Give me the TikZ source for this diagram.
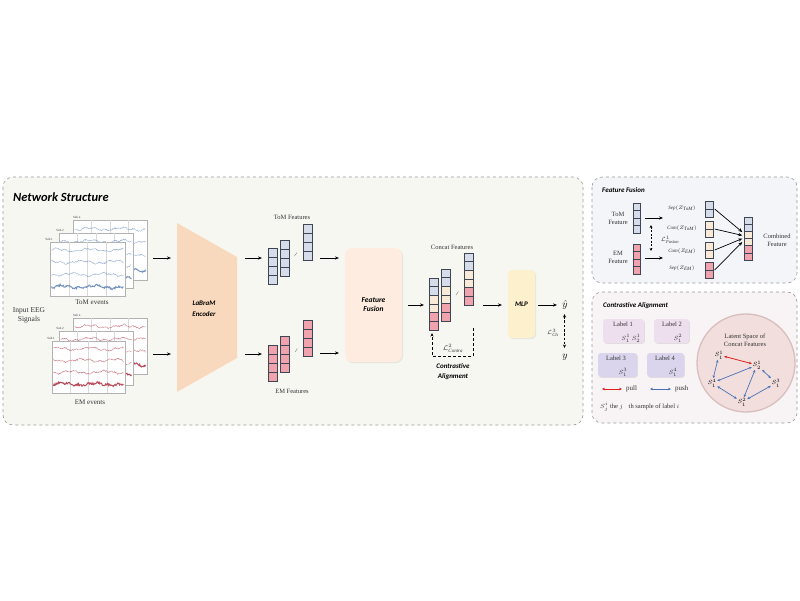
\documentclass[tikz,border=0pt]{standalone}
\usepackage{fontspec}
\setmainfont{Liberation Serif}
\newfontfamily\tfont{Carlito}
\usetikzlibrary{arrows.meta,calc,shadows}
\definecolor{panelbg}{HTML}{F7F7F2}
\definecolor{panelbd}{HTML}{9A9A9A}
\definecolor{ffbg}{HTML}{F4F5F9}
\definecolor{cabg}{HTML}{F8F3F5}
\definecolor{cblue}{HTML}{D6DCEA}
\definecolor{cpink}{HTML}{F0A3AC}
\definecolor{cbeige}{HTML}{F9E9D6}
\definecolor{cellbd}{HTML}{3E4656}
\definecolor{encfill}{HTML}{F9D9BD}
\definecolor{fffill}{HTML}{FDECDF}
\definecolor{mlpfill}{HTML}{FDF0CD}
\definecolor{lab12}{HTML}{EEDFEE}
\definecolor{lab34}{HTML}{DAD5EC}
\definecolor{circfill}{HTML}{F1DEDD}
\definecolor{circbd}{HTML}{D8BFBE}
\definecolor{tomline}{HTML}{6F8EBD}
\definecolor{emline}{HTML}{B5404E}
\definecolor{pullc}{HTML}{E02020}
\definecolor{pushc}{HTML}{4A72B8}
\definecolor{txt}{HTML}{333333}

\newcommand{\fbar}[7]{%
  \foreach \cc [count=\ii from 0] in {#7} {\draw[cell, fill=\cc] ({#2},{#3+\ii*#5}) rectangle ++({#4},{#5});}
  \node[inner sep=0, minimum width={#4*1pt}, minimum height={#6*#5*1pt}] (#1) at ({#2+#4/2},{#3+#6*#5/2}) {};
}
\newcommand{\eegpanel}[6]{%
  \draw[draw=gray!60, fill=white, line width=0.4] (#1,#2) rectangle ++(#3,#4);
  \foreach \f in {0.25,0.5,0.75} \draw[gray!30, line width=0.3] ({#1+\f*#3},#2) -- ++(0,#4);
  \pgfmathsetseed{#6}
  \foreach \f/\ph/\lw/\op/\nz in {0.15/0/0.4/0.7/0.7, 0.37/90/0.4/0.7/0.7, 0.6/200/0.4/0.7/0.7, 0.83/300/1.0/0.95/1.0}
    \draw[#5, line width=\lw, opacity=\op] plot[domain=#1+1.5:#1+#3-1.5, samples=110] (\x, {#2+\f*#4 + 1.2*sin(\x*11+\ph) + 0.7*sin(\x*37+2*\ph) + \nz*rand});
}

\begin{document}
\begin{tikzpicture}[x=1pt,y=-1pt,
  arr/.style={-{Stealth[length=4pt,width=3.2pt]}, line width=0.8pt},
  cell/.style={draw=cellbd, line width=0.7pt},
  panel/.style={draw=panelbd, dashed, line width=0.6pt, rounded corners=10pt},
  lbl/.style={font=\fontsize{7}{8}\selectfont, text=txt, align=center, inner sep=0},
  small/.style={font=\fontsize{6}{7}\selectfont, text=txt, align=center, inner sep=0},
  sub/.style={font=\fontsize{3.2}{3.6}\selectfont, text=txt, inner sep=0},
  ttl/.style={font=\tfont\bfseries\itshape\fontsize{7.5}{9}\selectfont, align=center, inner sep=0},
  sep/.style={font=\fontsize{5}{5.5}\selectfont, text=txt, inner sep=0},
  lab/.style={rounded corners=3pt, minimum height=24pt, inner sep=0, drop shadow={opacity=0.2, shadow xshift=0.8pt, shadow yshift=-0.8pt}},
  snode/.style={font=\fontsize{6.5}{7}\selectfont, inner sep=0.6pt},
  push/.style={{Stealth[length=3pt,width=2.6pt]}-{Stealth[length=3pt,width=2.6pt]}, pushc, line width=0.7pt},
  pull/.style={{Stealth[length=3pt,width=2.6pt]}-{Stealth[length=3pt,width=2.6pt]}, pullc, line width=0.8pt}
]
\fill[white] (0,0) rectangle (800,600);
\useasboundingbox (0,0) rectangle (800,600);

% ---------------- panels
\draw[panel, fill=panelbg] (3,177) rectangle (583,425);
\draw[panel, fill=ffbg] (592,177) rectangle (797,283);
\draw[panel, fill=cabg] (592,292) rectangle (797,423);

\node[ttl, anchor=west, font=\tfont\bfseries\itshape\fontsize{12.5}{14}\selectfont] (nstitle) at (13,197) {Network Structure};

% ---------------- EEG inputs
\eegpanel{73}{220}{74}{60}{tomline}{11}
\eegpanel{59}{233}{74}{55}{tomline}{12}
\eegpanel{50}{242}{75}{54}{tomline}{13}
\node[sub, anchor=south west] (subnT) at (73,218.5) {Sub n};
\node[sub, anchor=south east] (sub2T) at (64,232) {Sub 2};
\node[sub, anchor=south east] (sub1T) at (53,240.5) {Sub 1};
\node[lbl] (tomev) at (92,302) {ToM events};

\eegpanel{73}{318}{74}{56}{emline}{21}
\eegpanel{59}{331}{74}{54}{emline}{22}
\eegpanel{52}{341}{73}{52}{emline}{23}
\node[sub, anchor=south west] (subnE) at (73,316.5) {Sub n};
\node[sub, anchor=south east] (sub2E) at (64,330) {Sub 2};
\node[sub, anchor=south east] (sub1E) at (55,339.5) {Sub 1};
\node[lbl] (emev) at (90,402) {EM events};

\node[lbl, font=\fontsize{7.5}{9}\selectfont] (input) at (29,315) {Input EEG\\Signals};

\coordinate (tomeeg) at (153,258);
\coordinate (emeeg) at (153,354);
\coordinate (encinT) at (171,258);
\coordinate (encinE) at (171,354);
\draw[arr] (tomeeg) -- (encinT);
\draw[arr] (emeeg) -- (encinE);

% ---------------- encoder
\fill[encfill] (177,223) -- (237,257) -- (237,358) -- (177,392) -- cycle;
\node[ttl, font=\tfont\bfseries\itshape\fontsize{7}{11}\selectfont] (enc) at (204,309) {LaBraM\\Encoder};
\coordinate (encoutT) at (245,258);
\coordinate (encoutE) at (245,354);
\coordinate (tomfin) at (262,258);
\coordinate (emfin) at (262,354);
\draw[arr] (encoutT) -- (tomfin);
\draw[arr] (encoutE) -- (emfin);

% ---------------- ToM / EM features
\fbar{tb1}{268}{248}{9}{9}{4}{cblue,cblue,cblue,cblue}
\fbar{tb2}{280}{240}{9}{9}{4}{cblue,cblue,cblue,cblue}
\fbar{tb3}{303}{224}{9}{9}{4}{cblue,cblue,cblue,cblue}
\draw[gray, line width=0.4] (294.5,256) -- (297,252.5);
\node[lbl, font=\fontsize{6.5}{7}\selectfont] (tomfeat) at (292,217) {ToM Features};

\fbar{eb1}{268}{345}{9}{9}{4}{cpink,cpink,cpink,cpink}
\fbar{eb2}{280}{336}{9}{9}{4}{cpink,cpink,cpink,cpink}
\fbar{eb3}{303}{320}{9}{9}{4}{cpink,cpink,cpink,cpink}
\draw[gray, line width=0.4] (295,352) -- (297.5,348.5);
\node[lbl, font=\fontsize{6.5}{7}\selectfont] (emfeat) at (292,391) {EM Features};

\coordinate (tfo) at (320,258);
\coordinate (efo) at (320,353);
\coordinate (ffinT) at (339,258);
\coordinate (ffinE) at (339,353);
\draw[arr] (tfo) -- (ffinT);
\draw[arr] (efo) -- (ffinE);

% ---------------- feature fusion box
\node[ttl, fill=fffill, rounded corners=7pt, minimum width=57pt, minimum height=114pt,
  drop shadow={opacity=0.15, shadow xshift=1pt, shadow yshift=-1pt}] (ff) at (373.5,305) {Feature\\Fusion};
\coordinate (ffout) at (408,305);
\coordinate (catin) at (424,305);
\draw[arr] (ffout) -- (catin);

% ---------------- concat features
\fbar{cb1}{429}{278}{9}{8.7}{6}{cblue,cblue,cbeige,cbeige,cpink,cpink}
\fbar{cb2}{441}{269}{9}{8.7}{6}{cblue,cblue,cbeige,cbeige,cpink,cpink}
\fbar{cb3}{464}{253}{9}{8.7}{6}{cblue,cblue,cbeige,cbeige,cpink,cpink}
\draw[gray, line width=0.4] (456,295) -- (458.5,291.5);
\node[lbl, font=\fontsize{6.5}{7}\selectfont] (catfeat) at (452,247) {Concat Features};

\coordinate (lp1) at (473,328);
\coordinate (lp2) at (473,356);
\coordinate (lp3) at (432,356);
\coordinate (lp4) at (432,333);
\draw[dashed, line width=0.9pt, dash pattern=on 3pt off 2pt, -{Stealth[length=3.5pt,width=3pt]}] (lp1) -- (lp2) -- (lp3) -- (lp4);
\node[small, font=\fontsize{7}{8}\selectfont] (lcon) at (453,348.5) {$\mathcal{L}^2_{\mathit{Contra}}$};
\node[ttl, font=\tfont\bfseries\itshape\fontsize{7}{10}\selectfont] (catxt) at (453,372) {Contrastive\\Alignment};

\coordinate (catout) at (483,305);
\coordinate (mlpin) at (502,305);
\draw[arr] (catout) -- (mlpin);

% ---------------- MLP and output
\node[ttl, font=\tfont\bfseries\itshape\fontsize{7}{9}\selectfont, fill=mlpfill, rounded corners=4pt, minimum width=27pt, minimum height=68pt,
  drop shadow={opacity=0.15, shadow xshift=1pt, shadow yshift=-1pt}] (mlp) at (521.5,304) {MLP};
\coordinate (mlpout) at (538,305);
\coordinate (yhin) at (557,305);
\draw[arr] (mlpout) -- (yhin);
\node[inner sep=0.5pt, font=\fontsize{10}{10}\selectfont] (yhat) at (565,305) {$\hat{y}$};
\node[inner sep=0.5pt, font=\fontsize{10}{10}\selectfont] (ytrue) at (565,357) {$y$};
\draw[dashed, line width=0.9pt, dash pattern=on 2.5pt off 1.8pt, {Stealth[length=3.5pt,width=3pt]}-{Stealth[length=3.5pt,width=3pt]}] (564.5,314) -- (564.5,348);
\node[small, font=\fontsize{6.5}{7}\selectfont] (lcls) at (553,333) {$\mathcal{L}^3_{\mathit{Cls}}$};

% ================= Feature Fusion panel
\node[ttl, anchor=west, font=\tfont\bfseries\itshape\fontsize{7}{9}\selectfont] (fftitle) at (602,190) {Feature Fusion};
\node[small, font=\fontsize{6.5}{8}\selectfont] (tomf) at (618,218) {ToM\\Feature};
\node[small, font=\fontsize{6.5}{8}\selectfont] (emf) at (618,257) {EM\\Feature};
\fbar{ft}{633}{203}{7.5}{7.5}{4}{cblue,cblue,cblue,cblue}
\fbar{fe}{633}{244}{7.5}{7.5}{4}{cpink,cpink,cpink,cpink}
\coordinate (fto) at (645,218);
\coordinate (fti) at (663,218);
\coordinate (feo) at (645,258);
\coordinate (fei) at (663,258);
\draw[arr, line width=0.7pt] (fto) -- (fti);
\draw[arr, line width=0.7pt] (feo) -- (fei);
\draw[dashed, line width=0.8pt, dash pattern=on 2pt off 1.5pt, {Stealth[length=3pt,width=2.8pt]}-{Stealth[length=3pt,width=2.8pt]}] (651,225) -- (651,251);
\node[small, font=\fontsize{6.5}{7}\selectfont] (lfus) at (670,240) {$\mathcal{L}^1_{\mathit{Fusion}}$};

\node[sep] (sept) at (682,208) {$\mathit{Sep}(Z_{\mathit{ToM}})$};
\node[sep] (comt) at (682,228) {$\mathit{Com}(Z_{\mathit{ToM}})$};
\node[sep] (come) at (682,251) {$\mathit{Com}(Z_{\mathit{EM}})$};
\node[sep] (sepe) at (682,268) {$\mathit{Sep}(Z_{\mathit{EM}})$};

\fbar{s1}{705}{201}{8}{8}{2}{cblue,cblue}
\fbar{s2}{705}{221}{8}{8}{2}{cbeige,cbeige}
\fbar{s3}{705}{242}{8}{8}{2}{cbeige,cbeige}
\fbar{s4}{705}{262}{8}{8}{2}{cpink,cpink}
\fbar{comb}{744}{217}{8}{7.2}{6}{cblue,cblue,cbeige,cbeige,cpink,cpink}
\draw[arr, line width=0.7pt] ($(s1.east)+(1.5,0)$) -- ($(comb.west)+(-1.5,-6.5)$);
\draw[arr, line width=0.7pt] ($(s2.east)+(1.5,0)$) -- ($(comb.west)+(-1.5,-3.2)$);
\draw[arr, line width=0.7pt] ($(s3.east)+(1.5,0)$) -- ($(comb.west)+(-1.5,0)$);
\draw[arr, line width=0.7pt] ($(s4.east)+(1.5,0)$) -- ($(comb.west)+(-1.5,3.4)$);
\node[small, font=\fontsize{6.5}{8}\selectfont] (combt) at (777,240) {Combined\\Feature};

% ================= Contrastive Alignment panel
\node[ttl, anchor=west, font=\tfont\bfseries\itshape\fontsize{7}{9}\selectfont] (catitle) at (603,306) {Contrastive Alignment};
\node[lab, fill=lab12, minimum width=41pt] (l1) at (623.5,331) {};
\node[lab, fill=lab12, minimum width=35pt] (l2) at (671.5,331) {};
\node[lab, fill=lab34, minimum width=39pt] (l3) at (617.5,365) {};
\node[lab, fill=lab34, minimum width=37pt] (l4) at (665.5,365) {};
\node[small, font=\fontsize{6.5}{7}\selectfont] (l1t) at (623,324.5) {Label 1};
\node[small, font=\fontsize{6.5}{7}\selectfont] (l1s) at (631,338.5) {$S^1_1\ S^1_2$};
\node[small, font=\fontsize{6.5}{7}\selectfont] (l2t) at (672,324.5) {Label 2};
\node[small, font=\fontsize{6.5}{7}\selectfont] (l2s) at (678,338.5) {$S^2_1$};
\node[small, font=\fontsize{6.5}{7}\selectfont] (l3t) at (616,358.5) {Label 3};
\node[small, font=\fontsize{6.5}{7}\selectfont] (l3s) at (623,372.5) {$S^3_1$};
\node[small, font=\fontsize{6.5}{7}\selectfont] (l4t) at (665,358.5) {Label 4};
\node[small, font=\fontsize{6.5}{7}\selectfont] (l4s) at (673,372.5) {$S^4_1$};

\coordinate (pl1) at (602,389);
\coordinate (pl2) at (622,389);
\coordinate (ps1) at (650,389);
\coordinate (ps2) at (671,389);
\draw[pull] (pl1) -- (pl2);
\draw[push] (ps1) -- (ps2);
\node[small, anchor=west, font=\fontsize{7}{8}\selectfont] (pullt) at (626,389) {pull};
\node[small, anchor=west, font=\fontsize{7}{8}\selectfont] (pusht) at (675,389) {push};
\node[small, anchor=west, font=\fontsize{6.5}{7}\selectfont] (defn) at (600,407) {$S^i_j$ the $j$\hspace{4pt} th sample of label $i$};

\draw[circbd, fill=circfill, line width=1.3pt] (746,363) circle (49);
\node[small, font=\fontsize{6.5}{7.5}\selectfont] (lat) at (745,340) {Latent Space of\\Concat Features};
\node[snode] (sA) at (719,355) {$S^1_1$};
\node[snode] (sB) at (757,365) {$S^1_2$};
\node[snode] (sC) at (712,383) {$S^4_1$};
\node[snode] (sD) at (776,383) {$S^3_1$};
\node[snode] (sE) at (742,402) {$S^2_1$};
\draw[pull] (sA) -- (sB);
\draw[push] (sA) -- (sC);
\draw[push] (sC) -- (sB);
\draw[push] (sB) -- (sD);
\draw[push] (sB) -- (sE);
\draw[push] (sC) -- (sE);
\draw[push] (sE) -- (sD);
\end{tikzpicture}
\end{document}
